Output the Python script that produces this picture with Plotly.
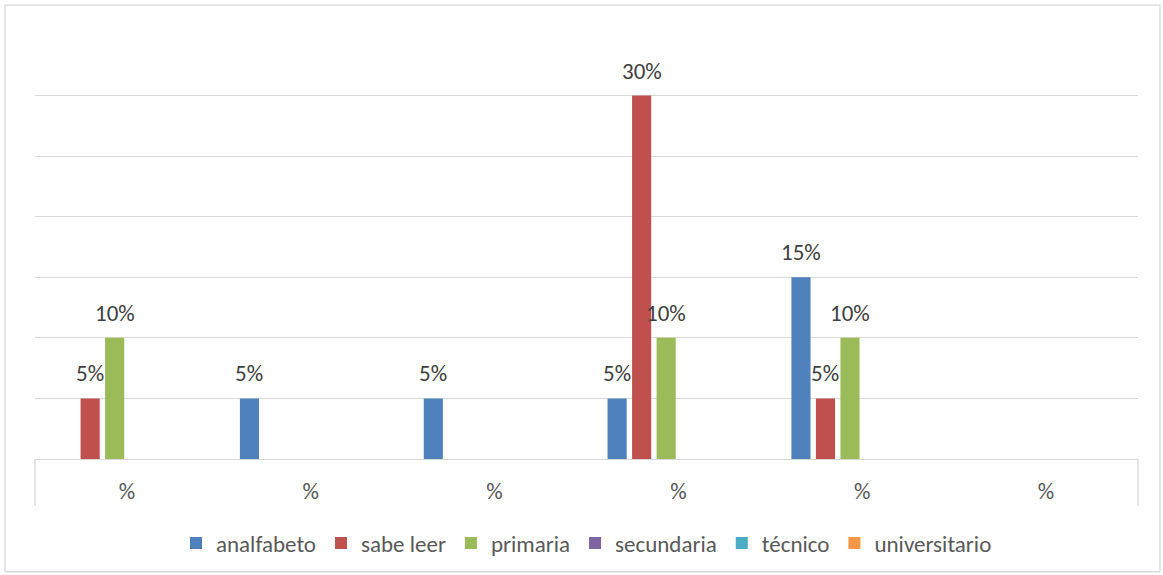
import plotly.graph_objects as go

# Six response groups, every one labelled "%" on the category axis
categories = [0, 1, 2, 3, 4, 5]
category_labels = ["%", "%", "%", "%", "%", "%"]

# Percentages per schooling level (None = no value recorded)
series_names = ["analfabeto", "sabe leer", "primaria", "secundaria", "técnico", "universitario"]
analfabeto = [None, 5, 5, 5, 15, None]
sabe_leer = [5, None, None, 30, 5, None]
primaria = [10, None, None, 10, 10, None]
secundaria = [None, None, None, None, None, None]
tecnico = [None, None, None, None, None, None]
universitario = [None, None, None, None, None, None]

series_values = [analfabeto, sabe_leer, primaria, secundaria, tecnico, universitario]
series_colors = ["#4F81BD", "#C0504D", "#9BBB59", "#8064A2", "#4BACC6", "#F79646"]

FONT = "Calibri, Carlito, Lato, sans-serif"
BARGAP = 0.2
BARGROUPGAP = 0.22

fig = go.Figure()
for name, vals, color in zip(series_names, series_values, series_colors):
    fig.add_trace(go.Bar(
        x=categories,
        y=vals,
        name=name,
        marker=dict(color=color, line=dict(width=0)),
    ))

# Value labels sit above each bar, drawn over every bar layer
n_series = len(series_names)
slot = (1 - BARGAP) / n_series
annotations = []
for i, vals in enumerate(series_values):
    for c, v in zip(categories, vals):
        if v is None:
            continue
        annotations.append(dict(
            x=c + (i - (n_series - 1) / 2) * slot, y=v, xref="x", yref="y",
            text=f"{v}%", showarrow=False, yanchor="middle", yshift=25,
            font=dict(family=FONT, size=23, color="#404040"),
        ))

# Plot area geometry in plot-fraction units
left_px, right_px, top_px, bottom_px = 35, 1138, 35, 460
W, H = 1163, 575
plot_w = right_px - left_px
plot_h = bottom_px - top_px

shapes = [
    # outer chart border
    dict(type="rect", xref="paper", yref="paper",
         x0=(5 - left_px) / plot_w, x1=(1160 - left_px) / plot_w,
         y0=(bottom_px - 573) / plot_h, y1=(bottom_px - 5) / plot_h,
         line=dict(color="#D9D9D9", width=1.3), layer="below"),
]
# edge ticks below the category axis
for xp in (0, 1):
    shapes.append(dict(type="line", xref="paper", yref="paper",
                       x0=xp, x1=xp, y0=0, y1=-(507 - bottom_px) / plot_h,
                       line=dict(color="#D9D9D9", width=1.3)))

fig.update_layout(
    width=W, height=H,
    margin=dict(l=left_px, r=W - right_px, t=top_px, b=H - bottom_px),
    paper_bgcolor="white", plot_bgcolor="white",
    barmode="group", bargap=BARGAP, bargroupgap=BARGROUPGAP,
    font=dict(family=FONT, color="#595959"),
    showlegend=True,
    legend=dict(orientation="h", x=0.5, xanchor="center",
                y=(bottom_px - 543) / plot_h, yanchor="middle",
                font=dict(family=FONT, size=23, color="#595959"),
                itemclick=False, traceorder="normal"),
    shapes=shapes,
    annotations=annotations,
)
fig.update_xaxes(
    range=[-0.5, 5.5], tickmode="array", tickvals=categories, ticktext=category_labels,
    tickfont=dict(family=FONT, size=23, color="#595959"),
    showgrid=False, zeroline=False, showline=True, linecolor="#D9D9D9", linewidth=1.3,
    ticks="", ticklabelstandoff=11, fixedrange=True,
)
fig.update_yaxes(
    range=[0, 35], dtick=5, showticklabels=False, showgrid=True,
    gridcolor="#D9D9D9", gridwidth=1.3, zeroline=False, showline=False, fixedrange=True,
)

fig.write_html("out.html")
